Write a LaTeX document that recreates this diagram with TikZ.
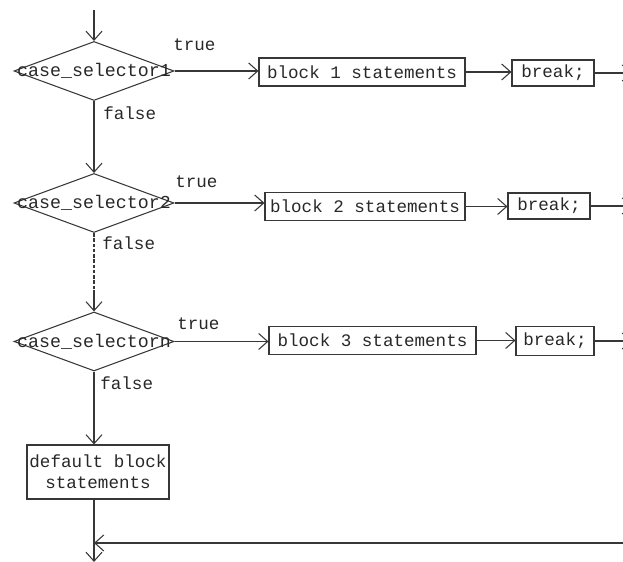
\documentclass[tikz,border=0pt]{standalone}
\usepackage{fontspec}
\setmonofont{Liberation Mono}
\usetikzlibrary{shapes.geometric,arrows.meta}
\definecolor{lineink}{RGB}{55,55,55}
\definecolor{textink}{RGB}{40,40,40}

\begin{document}
\begin{tikzpicture}[
  stmt/.style={rectangle, draw=lineink, line width=0.6pt, minimum height=0.56cm, inner sep=1pt, font=\ttfamily\fontsize{10}{12}\selectfont, text=textink},
  decision/.style={diamond, draw=lineink, line width=0.6pt, minimum width=3.2cm, minimum height=1.18cm, inner sep=0pt},
  seltext/.style={font=\ttfamily\fontsize{10.4}{12}\selectfont, text=textink, inner sep=0pt},
  lbl/.style={font=\ttfamily\fontsize{10}{12}\selectfont, text=textink, anchor=west, inner sep=0pt},
  arrow/.style={-{Straight Barb[length=1.8mm, width=3.2mm]}, line width=0.6pt, color=lineink},
  plain/.style={line width=0.6pt, color=lineink}
]
\useasboundingbox (0,0) rectangle (12.46,11.24);

% Selectors
\node[decision] (sel1) at (1.88,9.82) {};
\node[seltext] (sel1txt) at (sel1.center) {case\_selector1};
\node[decision] (sel2) at (1.88,7.18) {};
\node[seltext] (sel2txt) at (sel2.center) {case\_selector2};
\node[decision] (sel3) at (1.88,4.41) {};
\node[seltext] (sel3txt) at (sel3.center) {case\_selectorn};

% Statement blocks
\node[stmt, minimum width=4.12cm] (blk1) at (7.24,9.80) {block 1 statements};
\node[stmt, minimum width=4.0cm] (blk2) at (7.30,7.11) {block 2 statements};
\node[stmt, minimum width=4.14cm] (blk3) at (7.45,4.43) {block 3 statements};

% Breaks
\node[stmt, minimum width=1.64cm, minimum height=0.52cm] (brk1) at (11.06,9.78) {break;};
\node[stmt, minimum width=1.64cm, minimum height=0.52cm] (brk2) at (10.98,7.12) {break;};
\node[stmt, minimum width=1.56cm, minimum height=0.58cm] (brk3) at (11.10,4.42) {break;};

% Default
\node[stmt, minimum width=2.84cm, minimum height=1.08cm, align=center] (dflt) at (1.96,1.80) {default block\\statements};

% Free ends
\coordinate (entry) at (1.88,11.04);
\coordinate (dash2) at (1.88,5.44);
\coordinate (rim) at (12.64,0);
\coordinate (retin) at (12.6,0.38);
\coordinate (exit) at (1.88,0);

% Arrows
\draw[arrow] (entry) -- (sel1.north);
\draw[arrow] (sel1.south) -- (sel2.north);
\draw[plain, dashed, dash pattern=on 2pt off 1pt] (sel2.south) -- (dash2);
\draw[arrow] (dash2) -- (sel3.north);
\draw[arrow] (sel3.south) -- (sel3.south |- dflt.north);
\draw[arrow] (sel3.south |- dflt.south) -- (exit);
\draw[arrow] (retin) -- (exit |- retin);

\draw[arrow] (sel1.east) -- (sel1.east -| blk1.west);
\draw[arrow] (sel2.east) -- (sel2.east -| blk2.west);
\draw[arrow] (sel3.east) -- (sel3.east -| blk3.west);
\draw[arrow] (blk1.east) -- (blk1.east -| brk1.west);
\draw[arrow] (blk2.east) -- (blk2.east -| brk2.west);
\draw[arrow] (blk3.east) -- (blk3.east -| brk3.west);
\draw[arrow] (brk1.east) -- (brk1.east -| rim);
\draw[arrow] (brk2.east) -- (brk2.east -| rim);
\draw[arrow] (brk3.east) -- (brk3.east -| rim);

% Labels
\node[lbl] (true1) at (3.46,10.34) {true};
\node[lbl] (true2) at (3.50,7.60) {true};
\node[lbl] (true3) at (3.54,4.76) {true};
\node[lbl] (false1) at (2.06,8.98) {false};
\node[lbl] (false2) at (2.04,6.38) {false};
\node[lbl] (false3) at (2.00,3.58) {false};

\end{tikzpicture}
\end{document}
